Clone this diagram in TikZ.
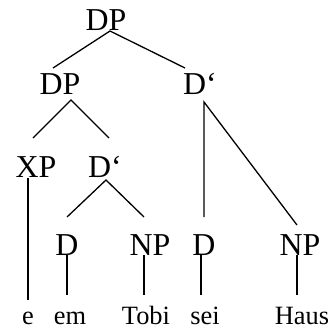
\documentclass[tikz,border=0pt]{standalone}
\usepackage{fontspec}
\setmainfont{Liberation Serif}
\tikzset{
  cat/.style={anchor=base, inner sep=0pt, font=\fontsize{32}{32}\selectfont},
  leaf/.style={anchor=base, inner sep=0pt, font=\fontsize{26.5}{26.5}\selectfont},
  branch/.style={line width=1.3bp, line cap=butt}
}
\begin{document}
\begin{tikzpicture}[x=1bp, y=-1bp]
  \useasboundingbox (0,0) rectangle (331,329);

  % category labels
  \node[cat] (dp)   at (106,30)  {DP};
  \node[cat] (dpl)  at (60,94)   {DP};
  \node[cat] (dbr)  at (200,94)  {D‘};
  \node[cat] (xp)   at (36,177)  {XP};
  \node[cat] (dbm)  at (105,177) {D‘};
  \node[cat] (dl)   at (67,255)  {D};
  \node[cat] (npm)  at (150,255) {NP};
  \node[cat] (dr)   at (204,255) {D};
  \node[cat] (npr)  at (300,255) {NP};

  % terminal words
  \node[leaf] (w1) at (28,324)  {e};
  \node[leaf] (w2) at (70,324)  {em};
  \node[leaf] (w3) at (146,324) {Tobi};
  \node[leaf] (w4) at (205,324) {sei};
  \node[leaf] (w5) at (302,324) {Haus};

  % branch end points
  \coordinate (dp-b)   at (110,31);
  \coordinate (dpl-t)  at (53,68);
  \coordinate (dbr-t)  at (185,68);
  \coordinate (dpl-b)  at (71,100);
  \coordinate (xp-t)   at (33,138);
  \coordinate (dbm-t)  at (109,138);
  \coordinate (dbr-b)  at (204,102);
  \coordinate (dr-t)   at (204,217);
  \coordinate (npr-t)  at (297,225);
  \coordinate (xp-b)   at (28,178);
  \coordinate (w1-t)   at (28,300);
  \coordinate (dbm-b)  at (106,180);
  \coordinate (dl-t)   at (67,217);
  \coordinate (npm-t)  at (144,217);
  \coordinate (dl-b)   at (67,255);
  \coordinate (w2-t)   at (67,295);
  \coordinate (npm-b)  at (144,255);
  \coordinate (w3-t)   at (144,295);
  \coordinate (dr-b)   at (201,255);
  \coordinate (w4-t)   at (201,295);
  \coordinate (npr-b)  at (297,255);
  \coordinate (w5-t)   at (297,295);

  % branches
  \draw[branch] (dpl-t) -- (dp-b) -- (dbr-t);
  \draw[branch] (xp-t) -- (dpl-b) -- (dbm-t);
  \draw[branch] (dr-t) -- (dbr-b) -- (npr-t);
  \draw[branch] (xp-b) -- (w1-t);
  \draw[branch] (dl-t) -- (dbm-b) -- (npm-t);
  \draw[branch] (dl-b) -- (w2-t);
  \draw[branch] (npm-b) -- (w3-t);
  \draw[branch] (dr-b) -- (w4-t);
  \draw[branch] (npr-b) -- (w5-t);
\end{tikzpicture}
\end{document}
